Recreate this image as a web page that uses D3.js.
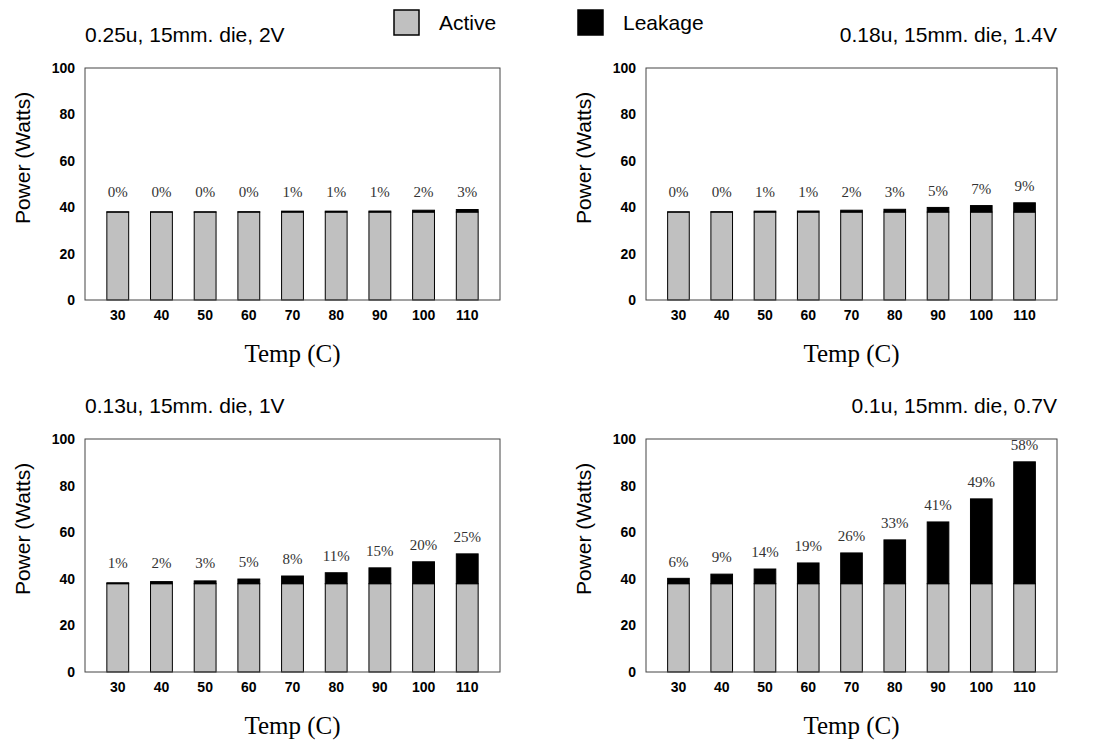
<!DOCTYPE html>
<meta charset="utf-8">
<style>
  body { margin: 0; background: #fff; }
  .narrow { font-family: "Liberation Sans", Arial, sans-serif; }
  .serif { font-family: "Liberation Serif", "DejaVu Serif", serif; }
  .frame { fill: none; stroke: #444; stroke-width: 1; }
  .bar { stroke: #000; stroke-width: 1; }
</style>
<body>
<div id="chart"></div>
<script src="https://d3js.org/d3.v7.min.js"></script>
<script>
// size of the whole picture
var width = 1096,
    height = 743;

// categories
var temps = ["30", "40", "50", "60", "70", "80", "90", "100", "110"];

var panelTitles = [
  "0.25u, 15mm. die, 2V",
  "0.18u, 15mm. die, 1.4V",
  "0.13u, 15mm. die, 1V",
  "0.1u, 15mm. die, 0.7V"
];

// active power (watts) per panel
var active025 = [37.9, 37.9, 37.9, 37.9, 37.9, 37.9, 37.9, 37.9, 37.9];
var active018 = [37.9, 37.9, 37.9, 37.9, 37.9, 37.9, 37.9, 37.9, 37.9];
var active013 = [37.9, 37.9, 37.9, 37.9, 37.9, 37.9, 37.9, 37.9, 37.9];
var active010 = [37.9, 37.9, 37.9, 37.9, 37.9, 37.9, 37.9, 37.9, 37.9];

// leakage power (watts) per panel
var leak025 = [0.1, 0.1, 0.1, 0.15, 0.4, 0.4, 0.45, 0.8, 1.1];
var leak018 = [0.1, 0.15, 0.4, 0.45, 0.8, 1.2, 2.0, 2.8, 4.0];
var leak013 = [0.4, 0.9, 1.2, 2.0, 3.3, 4.7, 6.8, 9.4, 12.8];
var leak010 = [2.3, 4.1, 6.3, 8.9, 13.2, 18.8, 26.5, 36.4, 52.3];

// percent labels
var pct025 = ["0%", "0%", "0%", "0%", "1%", "1%", "1%", "2%", "3%"];
var pct018 = ["0%", "0%", "1%", "1%", "2%", "3%", "5%", "7%", "9%"];
var pct013 = ["1%", "2%", "3%", "5%", "8%", "11%", "15%", "20%", "25%"];
var pct010 = ["6%", "9%", "14%", "19%", "26%", "33%", "41%", "49%", "58%"];

var yTicks = [0, 20, 40, 60, 80, 100];

var colors = { active: "#c0c0c0", leakage: "#000" };

// panel layout
var panels = [
  { title: panelTitles[0], active: active025, leak: leak025, pct: pct025, x0: 85,  x1: 500,  y0: 68,  y1: 300, align: "start" },
  { title: panelTitles[1], active: active018, leak: leak018, pct: pct018, x0: 646, x1: 1057, y0: 68,  y1: 300, align: "end" },
  { title: panelTitles[2], active: active013, leak: leak013, pct: pct013, x0: 85,  x1: 500,  y0: 439, y1: 672, align: "start" },
  { title: panelTitles[3], active: active010, leak: leak010, pct: pct010, x0: 646, x1: 1057, y0: 439, y1: 672, align: "end" }
];

var svg = d3.select("#chart").append("svg")
    .attr("width", width)
    .attr("height", height);

panels.forEach(function(p) {
  var x = d3.scaleBand()
      .domain(temps)
      .range([p.x0, p.x1])
      .paddingInner(0.5)
      .paddingOuter(0.5);

  var y = d3.scaleLinear()
      .domain([0, 100])
      .range([p.y1, p.y0]);

  var g = svg.append("g");

  var rows = temps.map(function(t, i) {
    return { t: t, a: p.active[i], l: p.leak[i], pct: p.pct[i] };
  });

  // active segment
  g.selectAll(".active")
      .data(rows)
    .enter().append("rect")
      .attr("class", "bar")
      .attr("x", function(d) { return x(d.t); })
      .attr("width", x.bandwidth())
      .attr("y", function(d) { return y(d.a); })
      .attr("height", function(d) { return y(0) - y(d.a); })
      .style("fill", colors.active);

  // leakage segment stacked on top
  g.selectAll(".leak")
      .data(rows)
    .enter().append("rect")
      .attr("class", "bar")
      .attr("x", function(d) { return x(d.t); })
      .attr("width", x.bandwidth())
      .attr("y", function(d) { return y(d.a + d.l); })
      .attr("height", function(d) { return y(d.a) - y(d.a + d.l); })
      .style("fill", colors.leakage);

  // percent labels
  g.selectAll(".pct")
      .data(rows)
    .enter().append("text")
      .attr("class", "serif")
      .attr("x", function(d) { return x(d.t) + x.bandwidth() / 2; })
      .attr("y", function(d) { return y(Math.max(d.a + d.l + 5, 44.5)); })
      .attr("text-anchor", "middle")
      .style("font-size", "15px")
      .style("fill", "#333")
      .text(function(d) { return d.pct; });

  // frame
  g.append("rect")
      .attr("class", "frame")
      .attr("x", p.x0)
      .attr("y", p.y0)
      .attr("width", p.x1 - p.x0)
      .attr("height", p.y1 - p.y0);

  // y axis
  var yAxis = g.append("g")
      .attr("transform", "translate(" + p.x0 + ",0)")
      .call(d3.axisLeft(y).tickValues(yTicks).tickSize(0).tickPadding(10));
  yAxis.attr("font-family", null).attr("class", "narrow");
  yAxis.select(".domain").remove();
  yAxis.selectAll("text")
      .style("font-size", "14px")
      .style("font-weight", "bold")
      .style("fill", "#000");

  // x axis
  var xAxis = g.append("g")
      .attr("transform", "translate(0," + p.y1 + ")")
      .call(d3.axisBottom(x).tickSize(0).tickPadding(10));
  xAxis.attr("font-family", null).attr("class", "narrow");
  xAxis.select(".domain").remove();
  xAxis.selectAll("text")
      .style("font-size", "14px")
      .style("font-weight", "bold")
      .style("fill", "#000");

  // titles
  g.append("text")
      .attr("class", "narrow")
      .attr("x", p.align === "start" ? p.x0 : p.x1)
      .attr("y", p.y0 - 26)
      .attr("text-anchor", p.align)
      .style("font-size", "21px")
      .text(p.title);

  g.append("text")
      .attr("class", "narrow")
      .attr("transform", "translate(" + (p.x0 - 55) + "," + (p.y0 + 90) + ") rotate(-90)")
      .attr("text-anchor", "middle")
      .style("font-size", "21px")
      .text("Power (Watts)");

  g.append("text")
      .attr("class", "serif")
      .attr("x", (p.x0 + p.x1) / 2)
      .attr("y", p.y1 + 62)
      .attr("text-anchor", "middle")
      .style("font-size", "25px")
      .text("Temp (C)");
});

// legend
var legend = [
  { name: "Active", color: colors.active, x: 394 },
  { name: "Leakage", color: colors.leakage, x: 578 }
];

var lg = svg.append("g").selectAll("g")
    .data(legend)
  .enter().append("g");

lg.append("rect")
    .attr("x", function(d) { return d.x; })
    .attr("y", 10)
    .attr("width", 25)
    .attr("height", 25)
    .style("fill", function(d) { return d.color; })
    .style("stroke", "#000")
    .style("stroke-width", 1.5);

lg.append("text")
    .attr("class", "narrow")
    .attr("x", function(d) { return d.x + 45; })
    .attr("y", 30)
    .style("font-size", "21px")
    .text(function(d) { return d.name; });
</script>
</body>
